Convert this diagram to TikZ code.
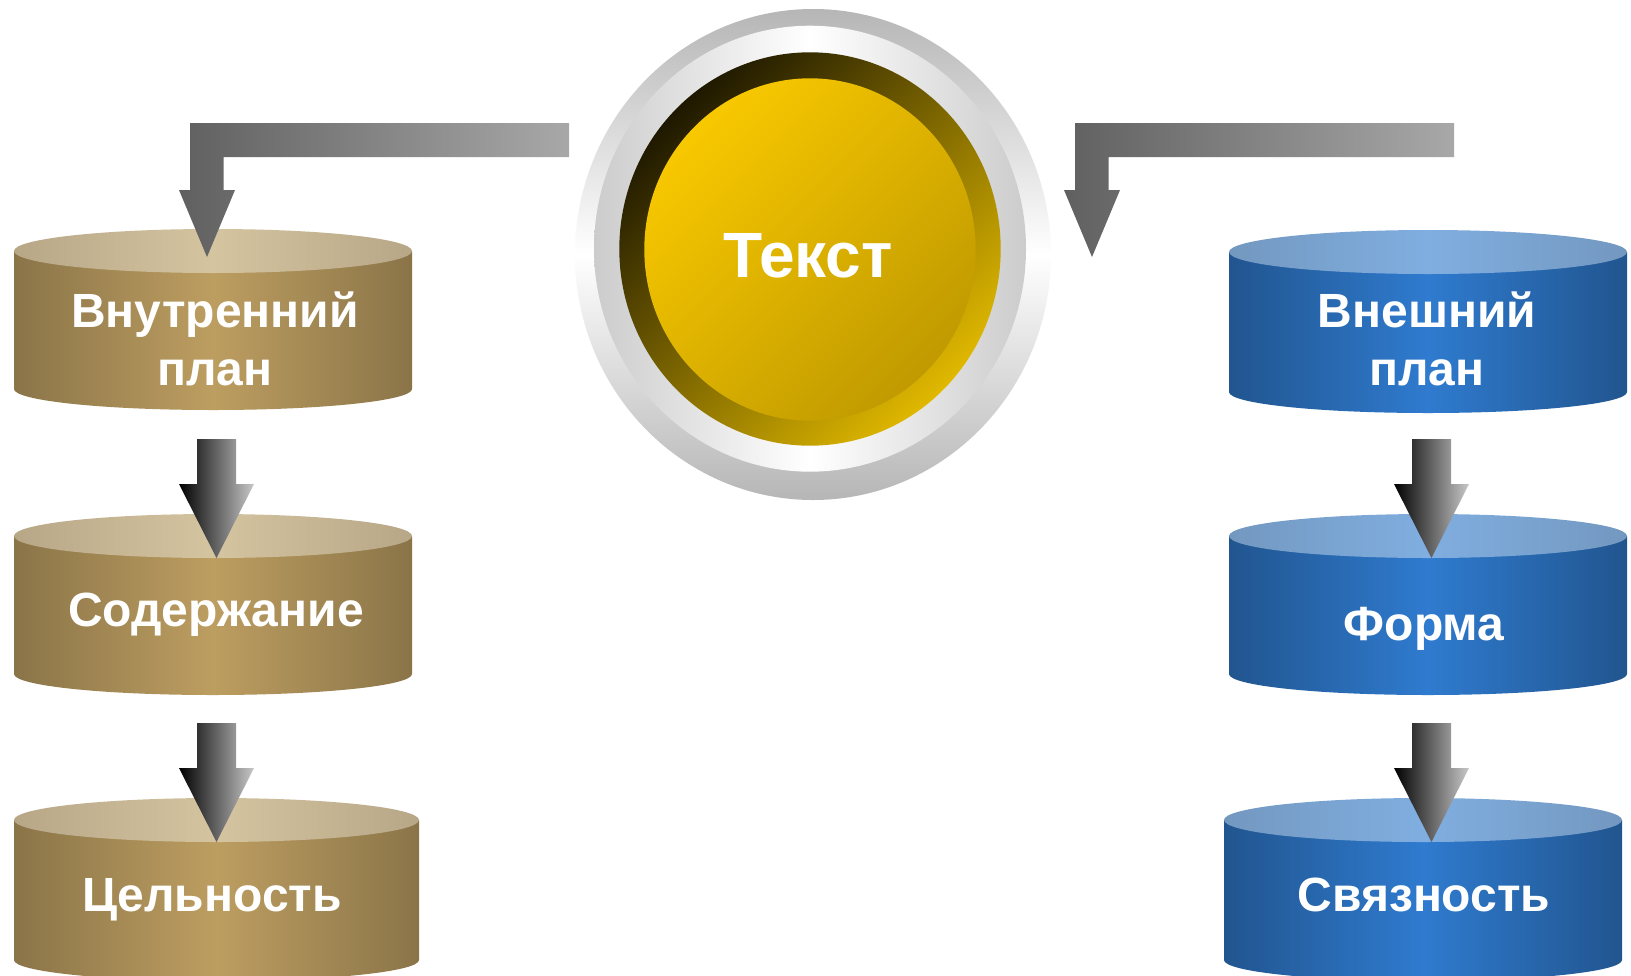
\documentclass[tikz,border=0pt]{standalone}
\usepackage{fontspec}
\setmainfont{Liberation Sans}
\usetikzlibrary{calc}

\definecolor{tanSideEdge}{HTML}{8A7448}
\definecolor{tanSideMid}{HTML}{BD9E61}
\definecolor{tanLidEdge}{HTML}{B7A787}
\definecolor{tanLidMid}{HTML}{D5C4A0}
\definecolor{blueSideEdge}{HTML}{21558F}
\definecolor{blueSideMid}{HTML}{2F7BCF}
\definecolor{blueLidEdge}{HTML}{7398C0}
\definecolor{blueLidMid}{HTML}{80AEE0}
\definecolor{ringGray}{HTML}{B6B6B6}
\definecolor{goldDark}{HTML}{1E1800}
\definecolor{goldRim}{HTML}{E0B800}
\definecolor{goldLight}{HTML}{F8C800}
\definecolor{goldDeep}{HTML}{C09A00}
\definecolor{arrowDark}{HTML}{606060}
\definecolor{arrowLight}{HTML}{A8A8A8}
\definecolor{arrowPale}{HTML}{C8C8C8}

\tikzset{
	lbl/.style={text=white,font=\bfseries\fontsize{48}{56}\selectfont,inner sep=0pt,anchor=base},
}

% #1 lid name, #2 left x, #3 right x, #4 lid y, #5 bottom y, #6 side colours, #7 lid colours
\newcommand{\barrel}[7]{%
	\shade[left color=#6Edge,right color=#6Edge,middle color=#6Mid]
		(#2,#4) -- (#2,#5) arc[start angle=180,end angle=360,x radius={(#3-#2)/2},y radius=21] -- (#3,#4) -- cycle;
	\shade[left color=#7Edge,right color=#7Edge,middle color=#7Mid]
		({(#2+#3)/2},#4) ellipse[x radius={(#3-#2)/2},y radius=22];
	\coordinate (#1) at ({(#2+#3)/2},#4-22);
}

% #1 lid below, #2 sideways shift of the tip
\newcommand{\dnarrow}[2]{%
	\shade[left color=black,right color=arrowPale]
		($(#1)+(#2-19.5,119)$) -- ++(39,0) -- ++(0,-45) -- ++(18,0) -- ($(#1)+(#2,0)$)
		-- ++(-37.5,74) -- ++(18,0) -- cycle;
}

\begin{document}
\begin{tikzpicture}[x=1pt,y=1pt]
	\clip (0,0) rectangle (1631,-975);
	\fill[white] (0,0) rectangle (1631,-975);
	% title button
	\shade[top color=ringGray,bottom color=ringGray,middle color=white] (813,-254.5) ellipse[x radius=238,y radius=245.5];
	\shade[left color=ringGray!70,right color=ringGray!70,middle color=white] (810,-248.7) ellipse[x radius=216,y radius=223];
	\shade[top color=goldDark,bottom color=goldRim,shading angle=45] (810,-249) ellipse[x radius=190.7,y radius=196.7];
	\shade[top color=goldLight,bottom color=goldDeep,shading angle=45] (810,-249.5) ellipse[x radius=165.7,y radius=171.2];
	\node[lbl,font=\bfseries\fontsize{64}{72}\selectfont] (tekst) at (808,-277) {Текст};
	% left column
	\barrel{inner}{14}{412}{-251}{-389}{tanSide}{tanLid}
	\barrel{content}{14}{412}{-536}{-674}{tanSide}{tanLid}
	\barrel{whole}{14}{419}{-820}{-960}{tanSide}{tanLid}
	\node[lbl] (inner1) at (215,-327) {Внутренний};
	\node[lbl] (inner2) at (215,-385) {план};
	\node[lbl] (content1) at (216,-626) {Содержание};
	\node[lbl] (whole1) at (212,-911) {Цельность};
	% right column
	\barrel{outer}{1229}{1627}{-252}{-392}{blueSide}{blueLid}
	\barrel{form}{1229}{1627}{-536}{-674}{blueSide}{blueLid}
	\barrel{link}{1224}{1622}{-820}{-960}{blueSide}{blueLid}
	\node[lbl] (outer1) at (1427,-327) {Внешний};
	\node[lbl] (outer2) at (1427,-385) {план};
	\node[lbl] (form1) at (1424,-640) {Форма};
	\node[lbl] (link1) at (1424,-911) {Связность};
	% arrows from the title
	\foreach \x in {190,1075}
		\shade[left color=arrowDark,right color=arrowLight] (\x,-123) -- ++(379,0) -- ++(0,-34) -- (\x+33.5,-157)
			-- (\x+33.5,-190) -- (\x+45,-190) -- (\x+17,-257) -- (\x-11,-190) -- (\x,-190) -- cycle;
	% arrows down the columns
	\dnarrow{content}{3.5}
	\dnarrow{whole}{0}
	\dnarrow{form}{3.5}
	\dnarrow{link}{8.5}
\end{tikzpicture}
\end{document}
